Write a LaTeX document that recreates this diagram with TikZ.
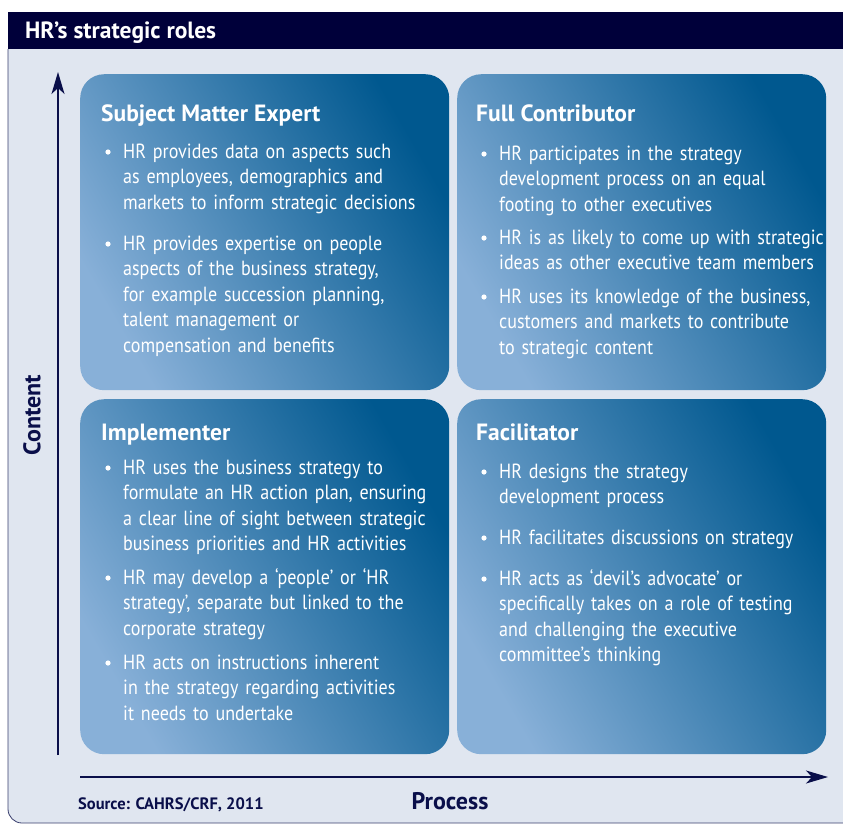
\documentclass[tikz,border=0pt]{standalone}
\usepackage{fontspec}
\setmainfont{PT Sans}
\newfontfamily\bodyfont{PT Sans}[FakeStretch=0.88]
\usetikzlibrary{arrows.meta}
\definecolor{barnavy}{HTML}{00003A}
\definecolor{panelbg}{HTML}{E0E6F0}
\definecolor{panelline}{HTML}{3A3F6E}
\definecolor{boxdark}{HTML}{00588F}
\definecolor{boxlight}{HTML}{88B0D8}
\definecolor{inknavy}{HTML}{0A0F4A}
\begin{document}
\begin{tikzpicture}[x=1pt,y=-1pt,
    quadrant/.style={rounded corners=24pt, top color=boxdark, bottom color=boxlight,
      shading angle=-60, minimum width=369pt, anchor=north west, inner sep=0pt},
    heading/.style={anchor=base west, inner sep=0pt, text=white,
      font=\fontsize{23.5}{28}\selectfont\bfseries},
    point/.style={anchor=base west, inner sep=0pt, text=white, text width=400pt,
      align=left, font=\bodyfont\fontsize{20.5}{25.6}\selectfont},
    axis/.style={draw=inknavy, line width=1.3pt, -{Stealth[length=22pt,width=13pt,inset=6pt]}},
    axislabel/.style={text=inknavy, font=\fontsize{24}{28}\selectfont\bfseries}]
   \useasboundingbox (0,0) rectangle (843,823);

   % frame and title bar
   \filldraw[fill=panelbg, draw=panelline, line width=0.8pt, rounded corners=14pt]
     (8,49) -- (8,823) -- (870,823) -- (870,49);
   \fill[barnavy] (8,12) rectangle (870,49);
   \node[heading] (title) at (25,38) {HR’s strategic roles};

   % the four roles
   \node[quadrant, minimum height=316pt] (sme)  at (80,74)  {};
   \node[quadrant, minimum height=316pt] (fc)   at (457,74) {};
   \node[quadrant, minimum height=355pt] (impl) at (80,399) {};
   \node[quadrant, minimum height=355pt] (fac)  at (457,399) {};

   \node[heading] (smehead)  at (101,121) {Subject Matter Expert};
   \node[heading] (fchead)   at (476,121) {Full Contributor};
   \node[heading] (implhead) at (101,440) {Implementer};
   \node[heading] (fachead)  at (476,440) {Facilitator};

   \node[point] (sme1) at (123,158) {HR provides data on aspects such\\as employees, demographics and\\markets to inform strategic decisions};
   \node[point] (sme2) at (123,250) {HR provides expertise on people\\aspects of the business strategy,\\for example succession planning,\\talent management or\\compensation and benefits};

   \node[point] (fc1) at (499,160) {HR participates in the strategy\\development process on an equal\\footing to other executives};
   \node[point] (fc2) at (499,244) {HR is as likely to come up with strategic\\ideas as other executive team members};
   \node[point] (fc3) at (499,303) {HR uses its knowledge of the business,\\customers and markets to contribute\\to strategic content};

   \node[point] (impl1) at (123,474) {HR uses the business strategy to\\formulate an HR action plan, ensuring\\a clear line of sight between strategic\\business priorities and HR activities};
   \node[point] (impl2) at (123,584) {HR may develop a ‘people’ or ‘HR\\strategy’, separate but linked to the\\corporate strategy};
   \node[point] (impl3) at (123,669) {HR acts on instructions inherent\\in the strategy regarding activities\\it needs to undertake};

   \node[point] (fac1) at (499,478) {HR designs the strategy\\development process};
   \node[point] (fac2) at (499,544) {HR facilitates discussions on strategy};
   \node[point] (fac3) at (499,585) {HR acts as ‘devil’s advocate’ or\\specifically takes on a role of testing\\and challenging the executive\\committee’s thinking};

   \foreach \p in {sme1,sme2,fc1,fc2,fc3,impl1,impl2,impl3,fac1,fac2,fac3}
     \fill[white] (\p.base west) ++(-15,-6) circle (2.6pt);

   % axes
   \coordinate (ybase) at (58,755);
   \coordinate (ytip)  at (58,72);
   \coordinate (xbase) at (80,777);
   \coordinate (xtip)  at (828,777);
   \draw[axis] (ybase) -- (ytip);
   \draw[axis] (xbase) -- (xtip);

   \node[axislabel, rotate=90] (content) at (32,415) {Content};
   \node[axislabel] (process) at (450,801) {Process};
   \node[anchor=base west, inner sep=0pt, text=inknavy,
     font=\fontsize{16.5}{19}\selectfont\bfseries] (source) at (78,809) {Source: CAHRS/CRF, 2011};
 \end{tikzpicture}
\end{document}
